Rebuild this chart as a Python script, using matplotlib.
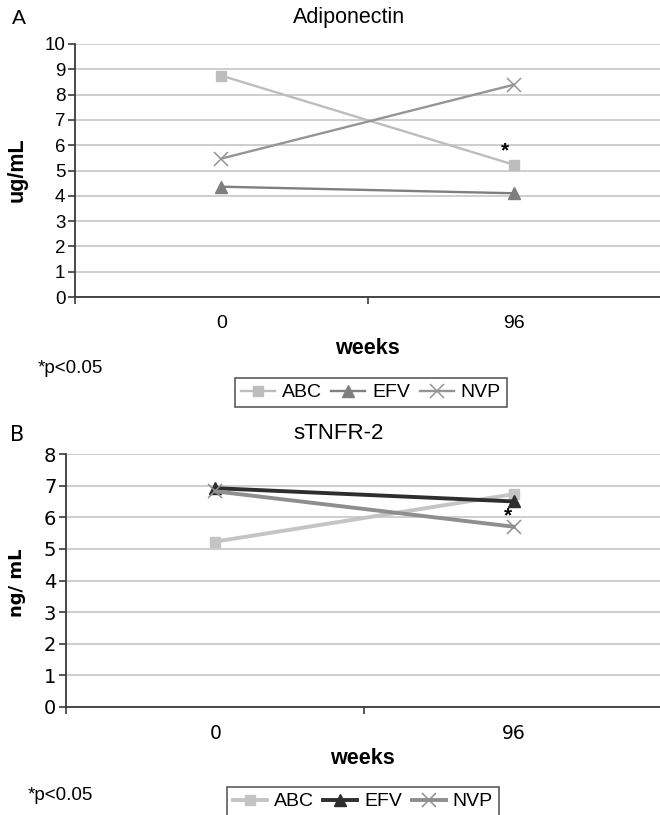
import numpy as np
import matplotlib
matplotlib.use("Agg")
import matplotlib.pyplot as plt
from matplotlib.ticker import FixedLocator

plt.rcParams["font.family"] = ["Liberation Sans", "DejaVu Sans"]

W, H = 660, 815

# ---------- data ----------
weeks = ["0", "96"]
series = ["ABC", "EFV", "NVP"]

adipo_abc = [8.75, 5.23]
adipo_efv = [4.36, 4.10]
adipo_nvp = [5.47, 8.39]

tnfr_abc = [5.23, 6.73]
tnfr_efv = [6.92, 6.50]
tnfr_nvp = [6.82, 5.70]


def px(x, y):
    return x / W, 1 - y / H


def axes_px(fig, left, top, right, bottom):
    return fig.add_axes([left / W, 1 - bottom / H, (right - left) / W, (bottom - top) / H])


def style_axes(ax, ymax, xmax, tickfont, ysize, xsize, xpad):
    ax.set_ylim(0, ymax)
    ax.set_xlim(-0.5, xmax)
    ax.set_yticks(np.arange(0, ymax + 1, 1))
    ax.yaxis.grid(True, color="#cacaca", linewidth=1.3)
    ax.set_axisbelow(True)
    for s in ("top", "right"):
        ax.spines[s].set_visible(False)
    for s in ("left", "bottom"):
        ax.spines[s].set_color("#3a3a3a")
        ax.spines[s].set_linewidth(1.3)
    ax.set_xticks([0, 1])
    ax.set_xticklabels(weeks, fontsize=xsize, family=tickfont)
    ax.xaxis.set_minor_locator(FixedLocator([-0.5, 0.5]))
    ax.tick_params(axis="x", which="major", length=0, pad=xpad)
    ax.tick_params(axis="x", which="minor", length=5, width=1.2, color="#3a3a3a")
    ax.tick_params(axis="y", length=5, width=1.2, color="#3a3a3a", labelsize=ysize, pad=2)
    for lab in ax.get_yticklabels():
        lab.set_family(tickfont)


def add_legend(ax, x0, y0):
    leg = ax.legend(loc="upper left", bbox_to_anchor=px(x0, y0), bbox_transform=fig.transFigure,
                    ncol=3, fontsize=14, frameon=True, fancybox=False, handlelength=1.75,
                    columnspacing=0.5, handletextpad=0.35, borderpad=0.3, borderaxespad=0)
    leg.get_frame().set_edgecolor("#222222")
    leg.get_frame().set_linewidth(1.1)
    return leg


fig = plt.figure(figsize=(W / 100, H / 100), dpi=100)
x = np.arange(len(weeks))

# ---------- Panel A ----------
axA = axes_px(fig, 75, 44, 660, 297)
style_axes(axA, 10, 1.5, ["Liberation Sans"], 13.5, 14, 13)
axA.plot(x, adipo_abc, color="#bdbdbd", lw=1.7, marker="s", ms=7.5, label="ABC")
axA.plot(x, adipo_efv, color="#7f7f7f", lw=1.7, marker="^", ms=8, label="EFV")
axA.plot(x, adipo_nvp, color="#959595", lw=1.7, marker="x", ms=9.5, mew=1.1, label="NVP")
axA.text(0.97, 5.78, "*", ha="center", va="center", fontsize=15, fontweight="bold")

fig.text(*px(12, 19), "A", fontsize=15, va="center", ha="left")
fig.text(*px(349, 18), "Adiponectin", fontsize=15.5, va="center", ha="center")
fig.text(*px(17, 170), "ug/mL", fontsize=15.5, fontweight="bold", rotation=90,
         va="center", ha="center")
fig.text(*px(367, 349), "weeks", fontsize=15.5, fontweight="bold", va="center", ha="center")
fig.text(*px(38, 368), "*p<0.05", fontsize=13.5, va="center", ha="left")
add_legend(axA, 235, 378)

# ---------- Panel B ----------
axB = axes_px(fig, 66, 454, 660, 707)
style_axes(axB, 8, 1.49, ["DejaVu Sans"], 14, 13.5, 12)
axB.plot(x, tnfr_abc, color="#c4c4c4", lw=2.8, marker="s", ms=7.5, label="ABC")
axB.plot(x, tnfr_efv, color="#2e2e2e", lw=2.8, marker="^", ms=8.5, label="EFV")
axB.plot(x, tnfr_nvp, color="#8e8e8e", lw=2.8, marker="x", ms=9.5, mew=1.1, label="NVP")
axB.text(0.98, 6.05, "*", ha="center", va="center", fontsize=15, fontweight="bold")

fig.text(*px(10, 435), "B", fontsize=15, va="center", ha="left", family=["DejaVu Sans"])
fig.text(*px(339, 433), "sTNFR-2", fontsize=16, va="center", ha="center")
fig.text(*px(17, 583), "ng/ mL", fontsize=13, fontweight="bold", rotation=90,
         va="center", ha="center", family=["DejaVu Sans"])
fig.text(*px(362, 759), "weeks", fontsize=15.5, fontweight="bold", va="center", ha="center")
fig.text(*px(28, 796), "*p<0.05", fontsize=13.5, va="center", ha="left")
add_legend(axB, 227, 787)

fig.savefig("out.png", dpi=100)
